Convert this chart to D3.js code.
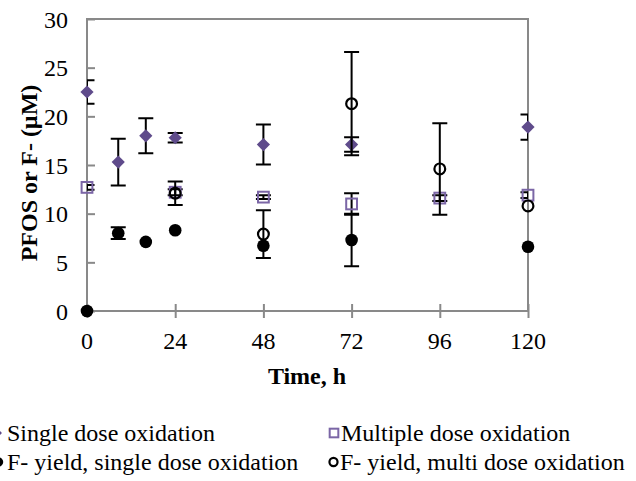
<!DOCTYPE html>
<html>
<head>
<meta charset="utf-8">
<script src="https://cdn.jsdelivr.net/npm/d3@7"></script>
<style>
  html, body { margin: 0; padding: 0; background: #fff; }
  svg { display: block; }
  text { font-family: "Liberation Serif", "Times New Roman", serif; fill: #000; }
</style>
</head>
<body>
<div id="chart"></div>
<script>
// PFOS concentration and fluoride yield over time
const xTicks = [0, 24, 48, 72, 96, 120];
const yTicks = [0, 5, 10, 15, 20, 25, 30];

// Single dose oxidation (PFOS, µM)
const singleTime = [0, 8.5, 16, 24, 48, 72, 120];
const singleValue = [22.5, 15.3, 18.0, 17.8, 17.1, 17.1, 18.9];
const singleErr = [1.2, 2.4, 1.8, 0.5, 2.05, 0.75, 1.3];

// Multiple dose oxidation (PFOS, µM)
const multiTime = [0, 24, 48, 72, 96, 120];
const multiValue = [12.7, 12.2, 11.7, 11.0, 11.6, 11.9];
const multiErr = [0.25, 0.3, 0.2, 1.1, 0.3, 0.3];

// F- yield, single dose oxidation (µM)
const fSingleTime = [0, 8.5, 16, 24, 48, 72, 120];
const fSingleValue = [0, 8.0, 7.1, 8.3, 6.7, 7.3, 6.6];
const fSingleErr = [0, 0.6, 0, 0, 0, 2.7, 0];

// F- yield, multi dose oxidation (µM)
const fMultiTime = [24, 48, 72, 96, 120];
const fMultiValue = [12.1, 7.9, 21.3, 14.6, 10.8];
const fMultiErr = [1.2, 2.45, 5.3, 4.7, 0];

const legendLabels = [
  "Single dose oxidation",
  "Multiple dose oxidation",
  "F- yield, single dose oxidation",
  "F- yield, multi dose oxidation"
];

const W = 636, H = 481;
const plot = { left: 87, right: 528, top: 19, bottom: 311 };
const purple = "#5f4b8b";
const squareStroke = "#7b66a6";
const axisGray = "#898989";

const svg = d3.select("#chart").append("svg")
  .attr("width", W).attr("height", H);

const x = d3.scaleLinear().domain([0, 120]).range([plot.left, plot.right]);
const y = d3.scaleLinear().domain([0, 30]).range([plot.bottom, plot.top]);

// clip region for error bars (plot area)
svg.append("defs").append("clipPath").attr("id", "plotClip")
  .append("rect")
  .attr("x", plot.left).attr("y", plot.top - 2)
  .attr("width", plot.right - plot.left).attr("height", plot.bottom - plot.top + 4);

// plot frame: top and right borders
svg.append("path")
  .attr("d", `M${plot.left},${plot.top}H${plot.right}V${plot.bottom}`)
  .attr("fill", "none").attr("stroke", axisGray).attr("stroke-width", 2);

// y axis: inward ticks
const yAxis = d3.axisRight(y).tickValues(yTicks).tickSize(8).tickFormat("");
const gy = svg.append("g").attr("transform", `translate(${plot.left},0)`).call(yAxis);
gy.select(".domain").remove();
gy.selectAll(".tick line").attr("stroke", axisGray).attr("stroke-width", 2);
svg.append("line")
  .attr("x1", plot.left).attr("x2", plot.left)
  .attr("y1", plot.top - 1).attr("y2", plot.bottom + 1)
  .attr("stroke", axisGray).attr("stroke-width", 2);

svg.append("g").selectAll("text").data(yTicks).join("text")
  .attr("x", 68).attr("y", d => y(d) + 8.5)
  .attr("text-anchor", "end").attr("font-size", 24)
  .text(d => d);

// x axis: crossing ticks
const xAxis = d3.axisBottom(x).tickValues(xTicks).tickSize(14).tickFormat("");
const gx = svg.append("g").attr("transform", `translate(0,${plot.bottom - 7})`).call(xAxis);
gx.select(".domain").remove();
gx.selectAll(".tick line").attr("stroke", axisGray).attr("stroke-width", 2);
svg.append("line")
  .attr("x1", plot.left - 1).attr("x2", plot.right + 1)
  .attr("y1", plot.bottom).attr("y2", plot.bottom)
  .attr("stroke", axisGray).attr("stroke-width", 2);

svg.append("g").selectAll("text").data(xTicks).join("text")
  .attr("x", d => x(d)).attr("y", 349)
  .attr("text-anchor", "middle").attr("font-size", 24)
  .text(d => d);

// axis titles
svg.append("text")
  .attr("x", 307).attr("y", 384)
  .attr("text-anchor", "middle").attr("font-size", 24).attr("font-weight", "bold")
  .text("Time, h");
svg.append("text")
  .attr("transform", "translate(37,173) rotate(-90)")
  .attr("text-anchor", "middle").attr("font-size", 24).attr("font-weight", "bold")
  .text("PFOS or F- (µM)");

// series definitions
const series = [
  { t: singleTime, v: singleValue, e: singleErr, kind: "diamond" },
  { t: multiTime, v: multiValue, e: multiErr, kind: "square" },
  { t: fSingleTime, v: fSingleValue, e: fSingleErr, kind: "dot" },
  { t: fMultiTime, v: fMultiValue, e: fMultiErr, kind: "ring" }
];

function drawMarker(g, kind, cx, cy, scale) {
  const s = scale || 1;
  if (kind === "diamond") {
    const r = 6.6 * s;
    g.append("path")
      .attr("d", `M${cx},${cy - r}L${cx + r},${cy}L${cx},${cy + r}L${cx - r},${cy}Z`)
      .attr("fill", purple);
  } else if (kind === "square") {
    const h = 5.4 * s;
    g.append("rect")
      .attr("x", cx - h).attr("y", cy - h).attr("width", 2 * h).attr("height", 2 * h)
      .attr("fill", "none").attr("stroke", squareStroke).attr("stroke-width", 2);
  } else if (kind === "dot") {
    g.append("circle").attr("cx", cx).attr("cy", cy).attr("r", 6.3 * s).attr("fill", "#000");
  } else {
    g.append("circle").attr("cx", cx).attr("cy", cy).attr("r", 5.4 * s)
      .attr("fill", "none").attr("stroke", "#000").attr("stroke-width", 2.2);
  }
}

const capHalf = 7.5;
series.forEach(s => {
  const pts = s.t.map((t, i) => ({ t, v: s.v[i], e: s.e[i] }));
  const eg = svg.append("g").attr("clip-path", "url(#plotClip)")
    .attr("stroke", "#000").attr("stroke-width", 2).attr("fill", "none");
  pts.filter(p => p.e > 0).forEach(p => {
    const cx = x(p.t), y1 = y(p.v + p.e), y2 = y(p.v - p.e);
    eg.append("path").attr("d",
      `M${cx},${y1}V${y2}M${cx - capHalf},${y1}H${cx + capHalf}M${cx - capHalf},${y2}H${cx + capHalf}`);
  });
  const mg = svg.append("g");
  pts.forEach(p => drawMarker(mg, s.kind, x(p.t), y(p.v)));
});

// legend
const legend = svg.append("g");
const legendItems = [
  { kind: "diamond", mx: -3, my: 433, tx: 7, ty: 441, scale: 0.75 },
  { kind: "square", mx: 334, my: 433, tx: 341, ty: 441, scale: 0.8 },
  { kind: "dot", mx: -1.5, my: 462, tx: 7, ty: 470, scale: 0.75 },
  { kind: "ring", mx: 333.5, my: 462, tx: 340, ty: 470, scale: 0.75 }
];
legendItems.forEach((it, i) => {
  drawMarker(legend, it.kind, it.mx, it.my, it.scale);
  legend.append("text").attr("x", it.tx).attr("y", it.ty)
    .attr("font-size", 24).text(legendLabels[i]);
});
</script>
</body>
</html>
